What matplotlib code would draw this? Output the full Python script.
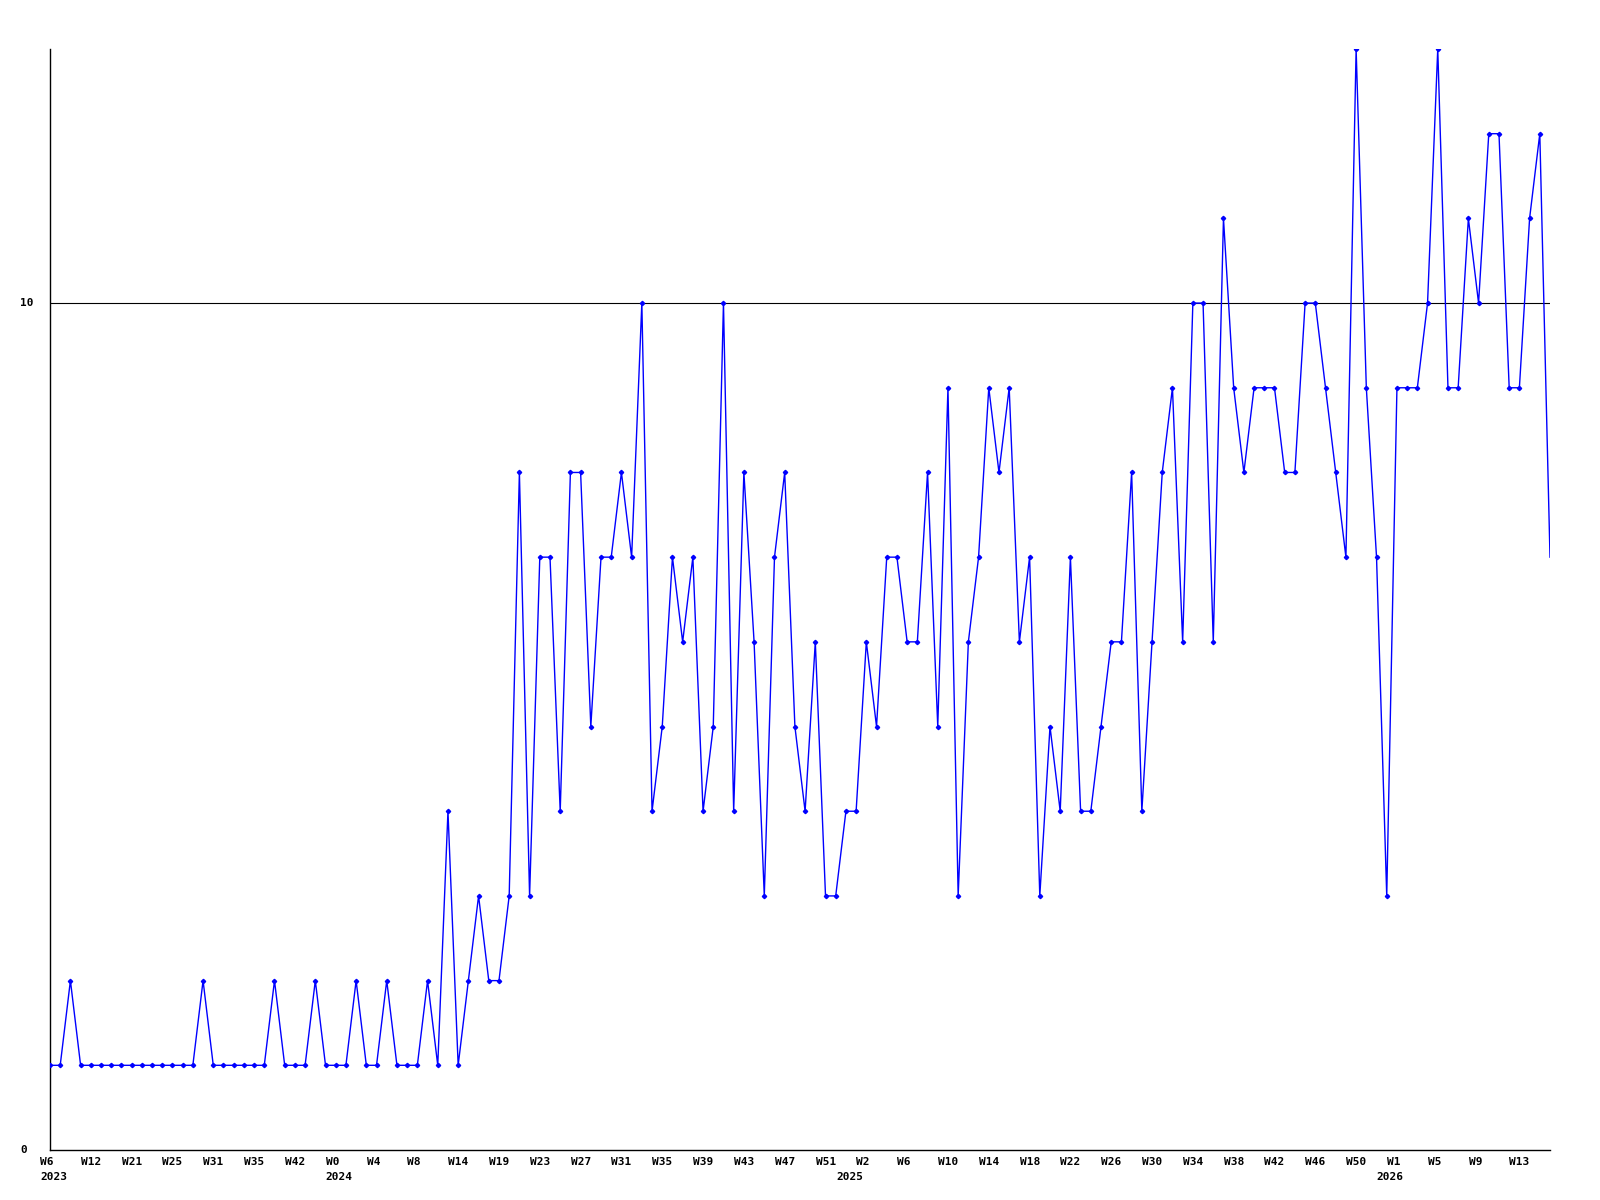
import matplotlib
matplotlib.use("Agg")
import matplotlib.pyplot as plt

## weekly counts, one value per point (148 points)
values = [1, 1, 2, 1, 1, 1, 1, 1, 1, 1, 1, 1, 1, 1, 1,
          2, 1, 1, 1, 1, 1, 1, 2, 1, 1, 1, 2, 1, 1, 1,
          2, 1, 1, 2, 1, 1, 1, 2, 1, 4, 1, 2, 3, 2, 2,
          3, 8, 3, 7, 7, 4, 8, 8, 5, 7, 7, 8, 7, 10, 4,
          5, 7, 6, 7, 4, 5, 10, 4, 8, 6, 3, 7, 8, 5, 4,
          6, 3, 3, 4, 4, 6, 5, 7, 7, 6, 6, 8, 5, 9, 3,
          6, 7, 9, 8, 9, 6, 7, 3, 5, 4, 7, 4, 4, 5, 6,
          6, 8, 4, 6, 8, 9, 6, 10, 10, 6, 11, 9, 8, 9, 9,
          9, 8, 8, 10, 10, 9, 8, 7, 13, 9, 7, 3, 9, 9, 9,
          10, 13, 9, 9, 11, 10, 12, 12, 9, 9, 11, 12, 7]

## x labels, one every 4 points
week_labels = ["W6", "W12", "W21", "W25", "W31", "W35", "W42", "W0", "W4", "W8",
               "W14", "W19", "W23", "W27", "W31", "W35", "W39", "W43", "W47", "W51",
               "W2", "W6", "W10", "W14", "W18", "W22", "W26", "W30", "W34", "W38",
               "W42", "W46", "W50", "W1", "W5", "W9", "W13"]
label_step = 4
# year label -> point index where it starts
year_labels = {0: "2023", 28: "2024", 78: "2025", 131: "2026"}
y_labels = [0, 10]

font = dict(family="DejaVu Sans Mono", fontweight="bold", fontsize=8)

fig = plt.figure(figsize=(16, 12), dpi=100)
ax = fig.add_axes([50 / 1600, 1 - 1150 / 1200, 1500 / 1600, 1101 / 1200])

xs = list(range(len(values)))
ax.axhline(10, color="black", linewidth=0.8, zorder=1)
# last point is cut by the plot edge, no marker there
ax.plot(xs, values, color="#0000ff", linewidth=1.0, marker="D", markersize=2.2,
        markevery=list(range(len(values) - 1)), zorder=3)

ax.set_xlim(0, len(values) - 1)
ax.set_ylim(0, 13)
ax.set_xticks([])
ax.set_yticks([])
for s in ["top", "right"]:
    ax.spines[s].set_visible(False)
for s in ["left", "bottom"]:
    ax.spines[s].set_color("black")
    ax.spines[s].set_linewidth(1.0)

# week labels under the axis
for k, lab in enumerate(week_labels):
    ax.annotate(lab, xy=(k * label_step, 0), xycoords=("data", "axes fraction"),
                xytext=(-10, -7), textcoords="offset pixels", ha="left", va="top", **font)
# year labels under the week labels
for pos, yr in year_labels.items():
    ax.annotate(yr, xy=(pos, 0), xycoords=("data", "axes fraction"),
                xytext=(-10, -22), textcoords="offset pixels", ha="left", va="top", **font)
# y labels
for v in y_labels:
    ax.annotate(str(v), xy=(0, v), xycoords=("axes fraction", "data"),
                xytext=(-30, 0), textcoords="offset pixels", ha="left", va="center", **font)

fig.savefig("out.png", dpi=100, facecolor="white")
